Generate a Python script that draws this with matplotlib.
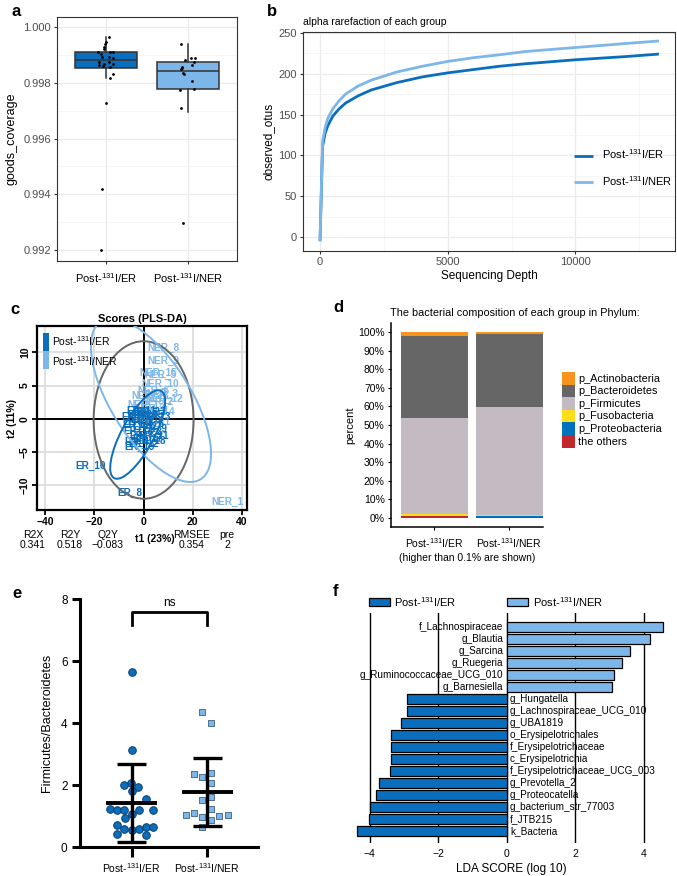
import numpy as np
import matplotlib.pyplot as plt
from matplotlib.patches import Ellipse, Rectangle

plt.rcParams['font.family'] = ['Liberation Sans', 'DejaVu Sans']
plt.rcParams['mathtext.default'] = 'regular'
plt.rcParams['axes.unicode_minus'] = True

W, H = 677, 876

er_lab = 'Post-$^{131}$I/ER'
ner_lab = 'Post-$^{131}$I/NER'
c_er = '#0A6EBD'
c_ner = '#7DB7EA'

# ---- a: goods coverage
cov_er = [0.99963, 0.99947, 0.99938, 0.99929, 0.99921, 0.99912, 0.99911, 0.99909,
          0.99903, 0.99894, 0.99892, 0.99890, 0.99876, 0.99873, 0.99868, 0.99866,
          0.99864, 0.99861, 0.99855, 0.99831, 0.99818, 0.99728, 0.99419, 0.99200]
cov_er_dx = [0.03, 0.0, -0.01, -0.03, -0.02, 0.05, 0.09, -0.10, -0.065, -0.05, 0.04, 0.09,
             0.03, -0.09, -0.03, 0.08, -0.085, -0.04, 0.05, 0.09, 0.05, 0.0, -0.045, -0.06]
cov_ner = [0.99938, 0.99888, 0.99888, 0.99882, 0.99873, 0.99864, 0.99858, 0.99852,
           0.99848, 0.99836, 0.99831, 0.99806, 0.99778, 0.99774, 0.99710, 0.99296]
cov_ner_dx = [-0.085, 0.04, 0.085, -0.03, 0.077, 0.045, -0.077, -0.07,
              -0.085, -0.065, -0.05, 0.045, 0.077, -0.10, -0.085, -0.057]
box_er = dict(q1=0.99853, med=0.99882, q3=0.99910, whislo=0.99818, whishi=0.99965, fliers=[])
box_ner = dict(q1=0.99779, med=0.99842, q3=0.99873, whislo=0.99696, whishi=0.99939, fliers=[])

# ---- b: rarefaction
depth = [0, 100, 200, 300, 500, 750, 1000, 1500, 2000, 3000, 4000, 5000,
         6000, 7000, 8000, 9000, 10000, 11000, 12000, 13270]
otus_er = [-5, 111, 127, 136, 148, 157, 164, 173, 180, 189, 196, 201,
           205, 209, 212, 214.5, 217, 219, 221, 224]
otus_ner = [-5, 117, 134, 145, 157, 167, 175, 185, 192, 202, 209, 215,
            219.5, 223, 227, 229.5, 232, 234.5, 237, 240]

# ---- c: PLS-DA scores
t1_er = [-1.5, 0.5, 2.5, -2.8, 1.0, 3.5, -0.5, -5.4, 4.5, -21.7, -1.0, 0.2,
         5.0, -2.0, 2.0, -3.0, 1.5, 3.0, -1.8, 0.8, 4.0, -0.2, 2.8, -2.5]
t2_er = [-0.5, -1.2, -2.0, -3.5, 0.8, -0.8, -2.6, -11.2, -1.5, -7.1, 1.2, -3.8,
         0.3, -1.8, 0.5, 0.2, -3.0, -3.4, -4.2, -0.2, -2.6, 0.6, 1.0, -1.0]
t1_ner = [33.9, 5.5, 7.5, 3.0, 6.8, 4.0, 2.0, 8.1, 8.1, 6.7, 3.5, 8.5, 1.0, 5.0, 6.0, 2.5]
t2_ner = [-12.6, 2.5, 3.8, 1.5, 6.6, 4.2, 0.0, 10.75, 8.7, 5.2, -0.5, 3.0, 2.0, 1.0, 6.9, 3.5]
# ellipses: centre x, centre y, semi-axis a, semi-axis b, angle (deg)
ell_all = (0.0, -0.2, 20.3, 11.9, 0)
ell_er = (-2.4, -2.4, 12.4, 3.95, 27.3)
ell_ner = (3.0, 2.8, 25.9, 8.8, -20.9)
stat_names = ['R2X', 'R2Y', 'Q2Y', 'RMSEE', 'pre']
stat_vals = ['0.341', '0.518', '\u22120.083', '0.354', '2']

# ---- d: phylum composition
phyla = ['p_Actinobacteria', 'p_Bacteroidetes', 'p_Firmicutes',
         'p_Fusobacteria', 'p_Proteobacteria', 'the others']
phy_col = ['#F7941D', '#666666', '#C3BAC2', '#FFDD1A', '#0071BC', '#C1272D']
comp_er = [1.8, 44.6, 51.5, 1.3, 0.1, 0.7]
comp_ner = [0.9, 39.4, 58.1, 0.9, 0.1, 0.6]

# ---- e: Firmicutes/Bacteroidetes
fb_er = [5.66, 3.13, 2.07, 1.99, 1.94, 1.81, 1.56, 1.21, 1.19, 1.20, 1.20, 1.18,
         1.08, 0.92, 0.70, 0.59, 0.56, 0.59, 0.65, 0.65, 0.43, 0.38]
fb_er_dx = [0, 0, -0.01, -0.10, 0.085, 0, 0.185, -0.287, -0.19, -0.10, 0.10, 0.278,
            0, -0.095, -0.19, -0.10, 0, 0.10, 0.185, 0.278, -0.19, 0.185]
fb_ner = [4.37, 4.01, 2.37, 2.26, 2.39, 2.07, 1.53, 1.62, 1.24, 1.02, 1.11, 0.97,
          0.86, 0.99, 1.02, 0.65]
fb_ner_dx = [-0.07, 0.044, -0.17, -0.07, 0.044, 0.044, -0.07, 0.044, 0.044, -0.287,
             -0.17, -0.07, 0.044, 0.16, 0.273, -0.07]
fb_mean = [1.42, 1.78]
fb_sd = [1.27, 1.10]

# ---- f: LEfSe
taxa = ['f_Lachnospiraceae', 'g_Blautia', 'g_Sarcina', 'g_Ruegeria',
        'g_Ruminococcaceae_UCG_010', 'g_Barnesiella', 'g_Hungatella',
        'g_Lachnospiraceae_UCG_010', 'g_UBA1819', 'o_Erysipelotrichales',
        'f_Erysipelotrichaceae', 'c_Erysipelotrichia', 'f_Erysipelotrichaceae_UCG_003',
        'g_Prevotella_2', 'g_Proteocatella', 'g_bacterium_str_77003', 'f_JTB215', 'k_Bacteria']
lda = [4.57, 4.20, 3.60, 3.36, 3.13, 3.07, -2.90, -2.92, -3.09, -3.39,
       -3.39, -3.39, -3.42, -3.74, -3.83, -3.99, -4.02, -4.38]


fig = plt.figure(figsize=(W / 100, H / 100), dpi=100)


def rect(l, t, r, b):
    return [l / W, 1 - b / H, (r - l) / W, (b - t) / H]


def ftext(x, y, s, **kw):
    fig.text(x / W, 1 - y / H, s, **kw)


def gg_theme(ax):
    for s in ax.spines.values():
        s.set_color('#333333')
        s.set_linewidth(0.8)
    ax.grid(True, which='major', color='#EBEBEB', lw=0.9)
    ax.grid(True, which='minor', color='#F2F2F2', lw=0.5)
    ax.set_axisbelow(True)
    ax.tick_params(which='major', length=2.5, color='#333333', labelsize=8, labelcolor='#4D4D4D', pad=2)
    ax.tick_params(which='minor', length=0)


# panel labels
for lab, x, y in [('a', 12, 11), ('b', 267, 11), ('c', 10, 309), ('d', 333, 308), ('e', 12, 594), ('f', 333, 591)]:
    ftext(x, y, lab, fontsize=12, fontweight='bold', va='center', ha='left')

# ================= a
ax = fig.add_axes(rect(57, 17, 237, 261))
gg_theme(ax)
bp = ax.bxp([box_er, box_ner], positions=[1, 2], widths=0.75, patch_artist=True, showcaps=False,
            boxprops=dict(edgecolor='#333333', lw=1.1),
            medianprops=dict(color='#333333', lw=1.1),
            whiskerprops=dict(color='#333333', lw=1.1), zorder=2)
bp['boxes'][0].set_facecolor(c_er)
bp['boxes'][1].set_facecolor(c_ner)
ax.scatter(1 + np.array(cov_er_dx), cov_er, s=4, color='black', zorder=3, lw=0)
ax.scatter(2 + np.array(cov_ner_dx), cov_ner, s=4, color='black', zorder=3, lw=0)
ax.set_xlim(0.4, 2.6)
ax.set_ylim(0.99161, 1.00036)
ax.set_yticks([0.992, 0.994, 0.996, 0.998, 1.000])
ax.set_yticks([0.993, 0.995, 0.997, 0.999], minor=True)
ax.set_xticks([1, 2])
ax.set_xticklabels([er_lab, ner_lab])
ax.tick_params(axis='x', pad=5)
for t in ax.get_xticklabels():
    t.set_color('black')
ax.set_ylabel('goods_coverage', fontsize=9, labelpad=4)

# ================= b
ax = fig.add_axes(rect(303, 32, 675, 251))
gg_theme(ax)
ax.plot(depth, otus_er, color=c_er, lw=2.0, label=er_lab, solid_capstyle='butt')
ax.plot(depth, otus_ner, color=c_ner, lw=2.0, label=ner_lab, solid_capstyle='butt')
ax.set_xlim(-666, 13900)
ax.set_ylim(-17, 251)
ax.set_xticks([0, 5000, 10000])
ax.set_xticks([2500, 7500, 12500], minor=True)
ax.set_yticks([0, 50, 100, 150, 200, 250])
ax.set_yticks([25, 75, 125, 175, 225], minor=True)
ax.set_xlabel('Sequencing Depth', fontsize=8.5, labelpad=2)
ax.set_ylabel('observed_otus', fontsize=8.5, labelpad=3)
ax.set_title('alpha rarefaction of each group', fontsize=7.5, loc='left', pad=5)
ax.legend(loc='center left', bbox_to_anchor=(0.7285, 0.38), frameon=False, fontsize=8,
          handlelength=1.75, handletextpad=0.8, labelspacing=1.15, borderpad=0, borderaxespad=0)

# ================= c
ax = fig.add_axes(rect(37, 326, 247, 510))
ax.set_xlim(-43.3, 42)
ax.set_ylim(-13.8, 14)
for v in [-40, -20, 20, 40]:
    ax.axvline(v, color='#DDDDDD', lw=1.3, zorder=0)
for v in [-10, -5, 5, 10]:
    ax.axhline(v, color='#DDDDDD', lw=1.3, zorder=0)
ax.axvline(0, color='black', lw=1.4, zorder=1)
ax.axhline(0, color='black', lw=1.4, zorder=1)
for x, y, i in zip(t1_ner, t2_ner, range(len(t1_ner))):
    ax.text(x, y, 'NER_%d' % (i + 1), color=c_ner, fontsize=7.2, fontweight='bold',
            ha='center', va='center', zorder=2)
for x, y, i in zip(t1_er, t2_er, range(len(t1_er))):
    ax.text(x, y, 'ER_%d' % (i + 1), color=c_er, fontsize=7.2, fontweight='bold',
            ha='center', va='center', zorder=3)
for (cx, cy, a, b, ang), col in [(ell_all, '#666666'), (ell_ner, c_ner), (ell_er, c_er)]:
    ax.add_patch(Ellipse((cx, cy), 2 * a, 2 * b, angle=ang, fill=False, edgecolor=col, lw=1.4, zorder=4))
for s in ax.spines.values():
    s.set_linewidth(1.6)
ax.set_xticks([-40, -20, 0, 20, 40])
ax.set_yticks([-10, -5, 0, 5, 10])
ax.tick_params(length=3.5, width=1.3, labelsize=7.5, pad=1.5)
for t in ax.get_xticklabels() + ax.get_yticklabels():
    t.set_fontweight('bold')
plt.setp(ax.get_yticklabels(), rotation=90, va='center')
ax.set_ylabel('t2 (11%)', fontsize=7.5, fontweight='bold', labelpad=2)
ax.set_title('Scores (PLS-DA)', fontsize=8, fontweight='bold', pad=3)
# legend
fig.add_artist(Rectangle((43 / W, 1 - 350.7 / H), 6 / W, 18 / H, transform=fig.transFigure, color=c_er, lw=0))
fig.add_artist(Rectangle((43 / W, 1 - 368.5 / H), 6 / W, 17.8 / H, transform=fig.transFigure, color=c_ner, lw=0))
ftext(51.5, 341, er_lab, fontsize=7.5, va='center')
ftext(51.5, 361, ner_lab, fontsize=7.5, va='center')
for name, val, x in zip(stat_names, stat_vals, [33, 70, 108, 192, 227]):
    ftext(x, 534.5, name, fontsize=7.5, ha='center', va='center')
    ftext(x, 545.5, val, fontsize=7.5, ha='center', va='center')
ftext(155, 539.5, 't1 (23%)', fontsize=7.5, fontweight='bold', ha='center', va='center')

# ================= d
ax = fig.add_axes(rect(391, 323, 543, 527))
pos = [1, 2]
for k, comp in enumerate([comp_er, comp_ner]):
    bottom = 0
    for j in range(len(phyla) - 1, -1, -1):
        ax.bar(pos[k], comp[j], bottom=bottom, width=0.9, color=phy_col[j], lw=0)
        bottom += comp[j]
ax.set_xlim(0.423, 2.45)
ax.set_ylim(-5, 105)
ax.set_yticks(range(0, 101, 10))
ax.set_yticklabels(['%d%%' % v for v in range(0, 101, 10)])
ax.set_xticks(pos)
ax.set_xticklabels([er_lab, ner_lab])
ax.spines['top'].set_visible(False)
ax.spines['right'].set_visible(False)
ax.spines['left'].set_linewidth(1.1)
ax.spines['bottom'].set_linewidth(1.1)
ax.tick_params(length=2.5, labelsize=7.5, pad=2)
ax.tick_params(axis='x', pad=4)
ax.set_ylabel('percent', fontsize=8, labelpad=2)
ax.set_xlabel('(higher than 0.1% are shown)', fontsize=7.5, labelpad=2)
ftext(390, 313, 'The bacterial composition of each group in Phylum:', fontsize=7.8, va='center')
for j, (p, col) in enumerate(zip(phyla, phy_col)):
    y0 = 372 + 12.6 * j
    fig.add_artist(Rectangle((562 / W, 1 - (y0 + 12.6) / H), 13 / W, 12.6 / H,
                             transform=fig.transFigure, color=col, lw=0))
    ftext(578, y0 + 6.5, p, fontsize=7.8, va='center')

# ================= e
ax = fig.add_axes(rect(80, 599, 258, 847))
ax.scatter(0 + np.array(fb_er_dx), fb_er, s=30, marker='o', facecolor=c_er,
           edgecolor='#0B3E6B', lw=0.7, zorder=3, clip_on=False)
ax.scatter(1 + np.array(fb_ner_dx), fb_ner, s=24, marker='s', facecolor=c_ner,
           edgecolor='#4F6F8C', lw=0.7, zorder=3, clip_on=False)
for k in range(2):
    m, sd = fb_mean[k], fb_sd[k]
    ax.plot([k - 0.335, k + 0.335], [m, m], color='black', lw=2.8, zorder=4, solid_capstyle='butt')
    ax.plot([k, k], [m - sd, m + sd], color='black', lw=2.4, zorder=4, solid_capstyle='butt')
    for yy in (m - sd, m + sd):
        ax.plot([k - 0.19, k + 0.19], [yy, yy], color='black', lw=2.4, zorder=4, solid_capstyle='butt')
ax.plot([0, 0, 1, 1], [7.17, 7.58, 7.58, 7.17], color='black', lw=2.0, clip_on=False)
ax.text(0.5, 7.87, 'ns', ha='center', va='center', fontsize=8.5)
ax.set_xlim(-0.684, 1.67)
ax.set_ylim(0, 8)
ax.set_yticks([0, 2, 4, 6, 8])
ax.set_xticks([0, 1])
ax.set_xticklabels([er_lab, ner_lab])
ax.spines['top'].set_visible(False)
ax.spines['right'].set_visible(False)
ax.spines['left'].set_linewidth(2.2)
ax.spines['bottom'].set_linewidth(2.2)
ax.spines['left'].set_capstyle('projecting')
ax.tick_params(axis='y', length=6, width=2.2, labelsize=8.5, pad=3)
ax.tick_params(axis='x', length=7, width=2.2, labelsize=7.5, pad=3)
ax.set_ylabel('Firmicutes/Bacteroidetes', fontsize=9, labelpad=6)

# ================= f
ax = fig.add_axes(rect(352.6, 613.3, 671, 843.3))
ypos = np.arange(len(taxa))
for v in [-4, -2, 0, 2, 4]:
    ax.axvline(v, color='black', lw=1.0, zorder=1)
cols = [c_ner if v > 0 else c_er for v in lda]
ax.barh(ypos, lda, height=0.82, color=cols, edgecolor='black', lw=0.9, zorder=2)
for y, v, name in zip(ypos, lda, taxa):
    if v > 0:
        ax.text(-0.1, y, name, ha='right', va='center', fontsize=7.2, zorder=3)
    else:
        ax.text(0.1, y, name, ha='left', va='center', fontsize=7.2, zorder=3)
ax.set_xlim(-4.5, 4.8)
ax.set_ylim(18.05, -1.17)
ax.set_yticks([])
ax.set_xticks([-4, -2, 0, 2, 4])
ax.tick_params(axis='x', length=0, labelsize=7.5, pad=4)
for s in ax.spines.values():
    s.set_visible(False)
ax.set_xlabel('LDA SCORE (log 10)', fontsize=8.5, labelpad=3)
fig.add_artist(Rectangle((369 / W, 1 - 605.5 / H), 21 / W, 7.5 / H, transform=fig.transFigure,
                         facecolor=c_er, edgecolor='black', lw=0.9))
fig.add_artist(Rectangle((507 / W, 1 - 605.5 / H), 21 / W, 7.5 / H, transform=fig.transFigure,
                         facecolor=c_ner, edgecolor='black', lw=0.9))
ftext(394, 601.7, er_lab, fontsize=8, va='center')
ftext(533, 601.7, ner_lab, fontsize=8, va='center')

fig.savefig('out.png', dpi=100)
